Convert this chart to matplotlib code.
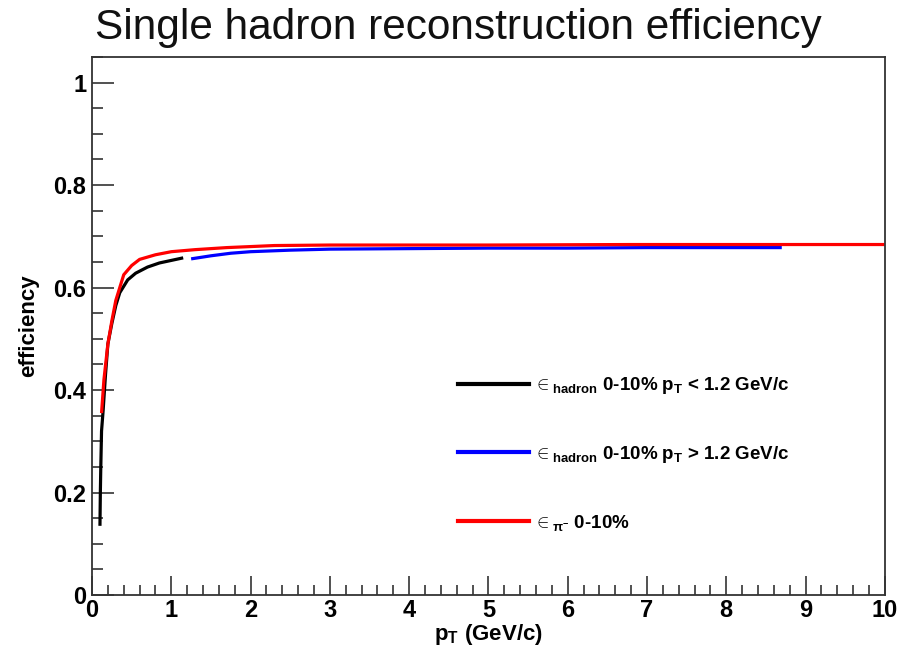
import matplotlib
matplotlib.use("Agg")
import matplotlib.pyplot as plt
from matplotlib.lines import Line2D
from matplotlib.ticker import MultipleLocator

plt.rcParams['font.family'] = ['Liberation Sans', 'DejaVu Sans']
plt.rcParams['mathtext.fontset'] = 'custom'
plt.rcParams['mathtext.rm'] = 'Liberation Sans:bold'
plt.rcParams['mathtext.bf'] = 'Liberation Sans:bold'
plt.rcParams['mathtext.it'] = 'Liberation Sans:bold'

# hadron efficiency, low-pT reconstruction (pT < 1.2 GeV/c)
pt_low = [0.10, 0.105, 0.11, 0.12, 0.14, 0.17, 0.20, 0.25, 0.30, 0.35, 0.45,
          0.55, 0.70, 0.85, 1.00, 1.15]
eff_low = [0.135, 0.20, 0.245, 0.32, 0.36, 0.43, 0.49, 0.53, 0.565, 0.59, 0.615,
           0.628, 0.640, 0.648, 0.653, 0.658]

# hadron efficiency, high-pT reconstruction (pT > 1.2 GeV/c)
pt_high = [1.25, 1.50, 1.75, 2.00, 2.50, 3.00, 4.00, 5.00, 6.00, 7.00, 8.70]
eff_high = [0.656, 0.662, 0.667, 0.670, 0.673, 0.675, 0.676, 0.677, 0.677, 0.678, 0.678]

# pi- efficiency
pt_pi = [0.12, 0.15, 0.20, 0.25, 0.30, 0.40, 0.50, 0.60, 0.80, 1.00, 1.30, 1.70,
         2.30, 3.00, 5.00, 6.80, 10.0]
eff_pi = [0.355, 0.42, 0.49, 0.535, 0.575, 0.625, 0.643, 0.655, 0.664, 0.670,
          0.674, 0.678, 0.682, 0.683, 0.683, 0.684, 0.684]

labels = [r"$\in_{\mathbf{hadron}}$ 0-10% p$_{\mathbf{T}}$ < 1.2 GeV/c",
          r"$\in_{\mathbf{hadron}}$ 0-10% p$_{\mathbf{T}}$ > 1.2 GeV/c",
          r"$\in_{\mathbf{\pi^{-}}}$ 0-10%"]
colors = ["black", "#0000ff", "#ff0000"]

fig = plt.figure(figsize=(9.04, 6.55), dpi=100)
ax = fig.add_axes([0.1018, 0.0916, 0.877, 0.8214])

lw = 2.3
ax.plot(pt_low, eff_low, color=colors[0], lw=lw, solid_capstyle='butt')
ax.plot(pt_high, eff_high, color=colors[1], lw=lw, solid_capstyle='butt')
ax.plot(pt_pi, eff_pi, color=colors[2], lw=lw, solid_capstyle='butt')

ax.set_xlim(0, 10)
ax.set_ylim(0, 1.05)
ax.xaxis.set_major_locator(MultipleLocator(1))
ax.xaxis.set_minor_locator(MultipleLocator(0.2))
ax.yaxis.set_major_locator(MultipleLocator(0.2))
ax.yaxis.set_minor_locator(MultipleLocator(0.05))
ax.yaxis.set_major_formatter(matplotlib.ticker.FuncFormatter(
    lambda v, p: "0" if abs(v) < 1e-9 else ("1" if abs(v - 1) < 1e-9 else f"{v:.1f}")))

ax.tick_params(which='both', direction='in', top=False, right=False, color='#333333')
ax.tick_params(which='major', axis='y', length=16, width=1.2, labelsize=17, pad=4)
ax.tick_params(which='minor', axis='y', length=8, width=1.2)
ax.tick_params(which='major', axis='x', length=14, width=1.2, labelsize=17, pad=3)
ax.tick_params(which='minor', axis='x', length=7, width=1.2)
for lab in ax.get_xticklabels() + ax.get_yticklabels():
    lab.set_fontweight('bold')
for sp in ax.spines.values():
    sp.set_linewidth(1.3)
    sp.set_color('#333333')

ax.set_xlabel(r"p$_{\mathbf{T}}$ (GeV/c)", fontsize=16, fontweight='bold', labelpad=0)
ax.set_ylabel("efficiency", fontsize=16, fontweight='bold', labelpad=10)

fig.text(0.105, 0.957, "Single hadron reconstruction efficiency", fontsize=30.5,
         ha='left', va='center', color='#111111')

handles = [Line2D([], [], color=c, lw=3) for c in colors]
ax.legend(handles, labels, loc='upper left', bbox_to_anchor=(0.44, 0.44),
          frameon=False, prop={'weight': 'bold', 'size': 13.5},
          handlelength=3.8, labelspacing=2.55, handletextpad=0.2)

fig.savefig("out.png", dpi=100)
